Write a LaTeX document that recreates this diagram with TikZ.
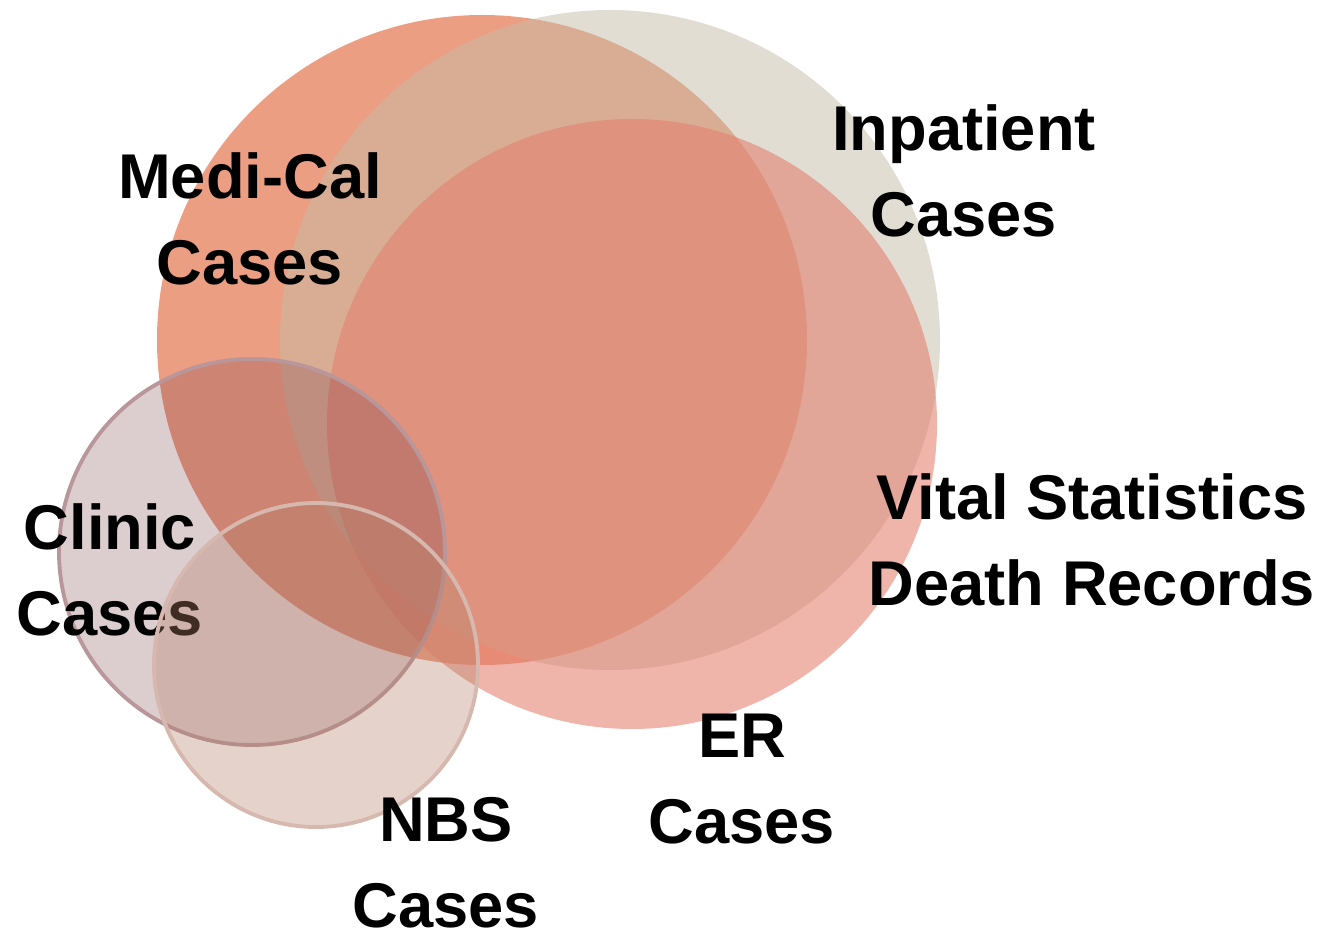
\documentclass[tikz,border=0pt]{standalone}
\usepackage{fontspec}
\setmainfont{Liberation Sans}
\usepackage{tikz}

\definecolor{medical}{RGB}{230,125,90}
\definecolor{inpatient}{RGB}{197,187,165}
\definecolor{ercol}{RGB}{228,128,111}
\definecolor{clinic}{RGB}{115,55,63}
\definecolor{clinicline}{RGB}{184,150,154}
\definecolor{nbs}{RGB}{181,129,106}
\definecolor{nbsline}{RGB}{214,184,174}

\tikzset{
  setlabel/.style={align=center, font=\bfseries\fontsize{36}{49}\selectfont}
}

\begin{document}
\begin{tikzpicture}[x=0.02cm, y=-0.02cm]
  \useasboundingbox (0,0) rectangle (1332,932);
  % Medi-Cal
  \fill[medical, fill opacity=0.75] (482,340) circle (325);
  % Inpatient
  \fill[inpatient, fill opacity=0.5] (610,340) circle (330);
  % ER / Vital Statistics
  \fill[ercol, fill opacity=0.59] (632,424) circle (305);
  % Clinic
  \filldraw[fill=clinic, fill opacity=0.25, draw=clinicline, line width=2.2pt] (252,552) circle (193);
  \node[setlabel] (clinic) at (110,570) {Clinic\\Cases};
  % NBS
  \filldraw[fill=nbs, fill opacity=0.35, draw=nbsline, line width=2.2pt] (316,665) circle (162);
  % labels
  \node[setlabel] (medical) at (250,219) {Medi-Cal\\Cases};
  \node[setlabel] (inpatient) at (964,171) {Inpatient\\Cases};
  \node[setlabel] (vital) at (1092,540) {Vital Statistics\\Death Records};
  \node[setlabel] (er) at (742,779) {ER\\Cases};
  \node[setlabel] (nbs) at (446,863) {NBS\\Cases};
\end{tikzpicture}
\end{document}
